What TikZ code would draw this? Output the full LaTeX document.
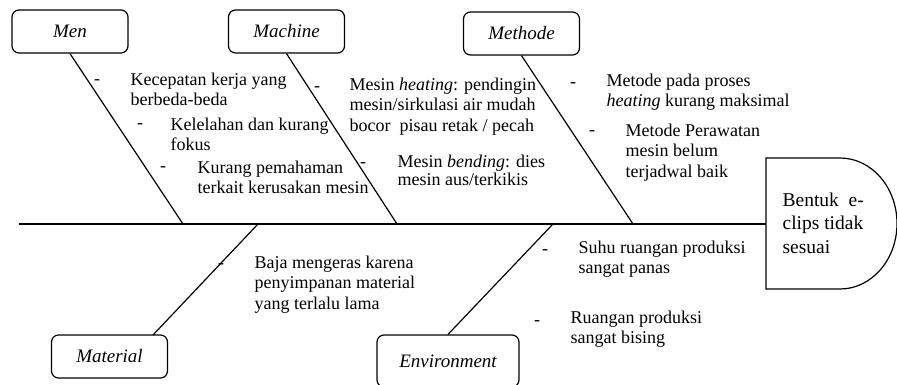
\documentclass[tikz,border=0pt]{standalone}
\usepackage{fontspec}
\setmainfont{Liberation Serif}

\begin{document}
\begin{tikzpicture}[x=1pt,y=-1pt,line width=1.2pt,
  cat/.style={draw,rounded corners=7pt,minimum width=116pt,minimum height=43pt,inner sep=0pt,font=\fontsize{19}{22}\selectfont\itshape},
  cause/.style={anchor=north west,inner sep=0pt,align=left,font=\fontsize{18}{20.5}\selectfont},
  itemdash/.style={inner sep=0pt,font=\fontsize{18}{20.5}\selectfont}]
\useasboundingbox (0,0) rectangle (897,385);
% categories
\node[cat] (men) at (70,31.5) {Men};
\node[cat] (machine) at (286.5,31.5) {Machine};
\node[cat] (methode) at (521.5,33.5) {Methode};
\node[cat] (material) at (109.5,356.5) {Material};
\node[cat,minimum width=142pt,minimum height=52pt] (environment) at (448,361) {Environment};
% spine and head
\coordinate (tail) at (19,224);
\coordinate (head) at (766,224);
\draw (tail) -- (head);
\draw (766,158) -- (840,158) .. controls (871.5,158) and (897,187.3) .. (897,223.5)
  .. controls (897,259.7) and (871.5,289) .. (840,289) -- (766,289) -- cycle;
\node[cause,font=\fontsize{19.5}{23.5}\selectfont] (effect) at (782,192) {Bentuk~ e-\\clips tidak\\sesuai};
% bones
\coordinate (menj) at (183,224);
\coordinate (machinej) at (397,224);
\coordinate (methodej) at (633,224);
\coordinate (materialj) at (258,224);
\coordinate (materialend) at (153,335);
\coordinate (environmentj) at (553,224);
\draw (men.south) -- (menj);
\draw (machine.south) -- (machinej);
\draw (methode.south) -- (methodej);
\draw (materialj) -- (materialend);
\draw (environmentj) -- (environment.north);
% men
\node[itemdash] (men1d) at (97,82) {-};
\node[cause] (men1) at (130,72) {Kecepatan kerja yang\\berbeda-beda};
\node[itemdash] (men2d) at (140,126) {-};
\node[cause] (men2) at (170,117) {Kelelahan dan kurang\\fokus};
\node[itemdash] (men3d) at (163,169) {-};
\node[cause] (men3) at (197,160) {Kurang pemahaman\\terkait kerusakan mesin};
% machine
\node[itemdash] (mac1d) at (317,89) {-};
\node[cause] (mac1) at (349,77) {Mesin \textit{heating}: pendingin\\mesin/sirkulasi air mudah\\bocor~ pisau retak / pecah};
\node[itemdash] (mac2d) at (363,165) {-};
\node[cause,font=\fontsize{18}{18.5}\selectfont] (mac2) at (397,154) {Mesin \textit{bending}: dies\\mesin aus/terkikis};
% methode
\node[itemdash] (met1d) at (573,85) {-};
\node[cause] (met1) at (606,73) {Metode pada proses\\\textit{heating} kurang maksimal};
\node[itemdash] (met2d) at (592,133) {-};
\node[cause] (met2) at (625,123) {Metode Perawatan\\mesin belum\\terjadwal baik};
% material
\node[itemdash] (mat1d) at (221,266) {-};
\node[cause] (mat1) at (254,255) {Baja mengeras karena\\penyimpanan material\\yang terlalu lama};
% environment
\node[itemdash] (env1d) at (545,252) {-};
\node[cause] (env1) at (578,240) {Suhu ruangan produksi\\sangat panas};
\node[itemdash] (env2d) at (537,323) {-};
\node[cause] (env2) at (570,310) {Ruangan produksi\\sangat bising};
\end{tikzpicture}
\end{document}
